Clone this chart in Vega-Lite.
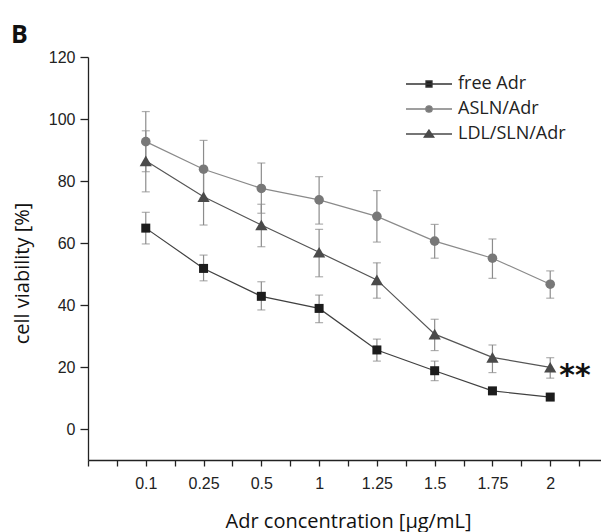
{
  "$schema": "https://vega.github.io/schema/vega-lite/v6.json",
  "width": 520,
  "height": 403,
  "autosize": {"type": "none"},
  "padding": {"left": 88, "top": 57, "right": 0, "bottom": 72},
  "background": "white",
  "config": {"view": {"stroke": null}, "axis": {"grid": false}},
  "title": {"text": "B", "anchor": "start", "frame": "group", "font": "Open Sans", "fontSize": 25, "fontWeight": "bold", "color": "#111111", "dx": -77, "dy": 26, "baseline": "alphabetic", "offset": 7},
  "data": {"values": [
    {"idx": 1, "group": "free Adr", "mean": 64.8, "lo": 59.7, "hi": 69.9},
    {"idx": 2, "group": "free Adr", "mean": 51.8, "lo": 47.8, "hi": 56.1},
    {"idx": 3, "group": "free Adr", "mean": 42.8, "lo": 38.4, "hi": 47.5},
    {"idx": 4, "group": "free Adr", "mean": 38.9, "lo": 34.3, "hi": 43.2},
    {"idx": 5, "group": "free Adr", "mean": 25.5, "lo": 21.9, "hi": 29.0},
    {"idx": 6, "group": "free Adr", "mean": 18.8, "lo": 15.6, "hi": 21.9},
    {"idx": 7, "group": "free Adr", "mean": 12.3, "lo": 11.3, "hi": 13.3},
    {"idx": 8, "group": "free Adr", "mean": 10.3, "lo": 9.5, "hi": 11.1},
    {"idx": 1, "group": "ASLN/Adr", "mean": 92.7, "lo": 83.0, "hi": 102.4},
    {"idx": 2, "group": "ASLN/Adr", "mean": 83.8, "lo": 74.5, "hi": 93.1},
    {"idx": 3, "group": "ASLN/Adr", "mean": 77.6, "lo": 69.6, "hi": 85.8},
    {"idx": 4, "group": "ASLN/Adr", "mean": 73.9, "lo": 66.1, "hi": 81.4},
    {"idx": 5, "group": "ASLN/Adr", "mean": 68.6, "lo": 60.3, "hi": 76.9},
    {"idx": 6, "group": "ASLN/Adr", "mean": 60.6, "lo": 55.1, "hi": 66.0},
    {"idx": 7, "group": "ASLN/Adr", "mean": 55.1, "lo": 48.6, "hi": 61.3},
    {"idx": 8, "group": "ASLN/Adr", "mean": 46.7, "lo": 42.2, "hi": 51.0},
    {"idx": 1, "group": "LDL/SLN/Adr", "mean": 86.5, "lo": 76.5, "hi": 96.2},
    {"idx": 2, "group": "LDL/SLN/Adr", "mean": 74.9, "lo": 65.8, "hi": 83.9},
    {"idx": 3, "group": "LDL/SLN/Adr", "mean": 65.8, "lo": 58.8, "hi": 72.5},
    {"idx": 4, "group": "LDL/SLN/Adr", "mean": 57.0, "lo": 49.1, "hi": 64.4},
    {"idx": 5, "group": "LDL/SLN/Adr", "mean": 48.1, "lo": 42.2, "hi": 53.6},
    {"idx": 6, "group": "LDL/SLN/Adr", "mean": 30.6, "lo": 25.3, "hi": 35.4},
    {"idx": 7, "group": "LDL/SLN/Adr", "mean": 23.1, "lo": 18.2, "hi": 27.1},
    {"idx": 8, "group": "LDL/SLN/Adr", "mean": 19.9, "lo": 16.4, "hi": 23.0}
  ]},
  "encoding": {
    "x": {
      "field": "idx", "type": "quantitative",
      "scale": {"domain": [0, 9], "nice": false, "zero": false},
      "axis": {
        "values": [0, 0.5, 1, 1.5, 2, 2.5, 3, 3.5, 4, 4.5, 5, 5.5, 6, 6.5, 7, 7.5, 8, 8.5],
        "labelExpr": "['', '0.1', '0.25', '0.5', '1', '1.25', '1.5', '1.75', '2'][datum.value] || ''",
        "grid": false, "tickSize": 6, "tickColor": "#222222", "tickWidth": 1.3,
        "domainColor": "#222222", "domainWidth": 1.3,
        "labelFont": "Liberation Sans", "labelFontSize": 16, "labelColor": "#222222",
        "labelBaseline": "alphabetic", "labelPadding": 22, "labelFlush": false, "labelOverlap": false,
        "title": "Adr concentration [μg/mL]", "titleFont": "Open Sans", "titleFontSize": 20,
        "titleFontWeight": "normal", "titleColor": "#111111", "titleBaseline": "alphabetic",
        "titleX": 260, "titleY": 67,
        "encode": {"ticks": {"update": {"y2": {"signal": "datum.value % 1 === 0 ? 6 : 3.5"}}}}
      }
    }
  },
  "layer": [
    {
      "mark": {"type": "rule", "color": "#8c8c8c", "strokeWidth": 1.2},
      "encoding": {
        "y": {
          "field": "lo", "type": "quantitative",
          "scale": {"domain": [-10, 120], "nice": false, "zero": false},
          "axis": {
            "values": [0, 10, 20, 30, 40, 50, 60, 70, 80, 90, 100, 110, 120],
            "labelExpr": "datum.value % 20 === 0 ? datum.label : ''",
            "grid": false, "tickSize": 8, "tickColor": "#222222", "tickWidth": 1.3,
            "domainColor": "#222222", "domainWidth": 1.3,
            "labelFont": "Liberation Sans", "labelFontSize": 16, "labelColor": "#222222",
            "labelPadding": 5, "labelFlush": false, "labelOverlap": false,
            "title": "cell viability [%]", "titleFont": "Open Sans", "titleFontSize": 20,
            "titleFontWeight": "normal", "titleColor": "#111111",
            "titleBaseline": "middle", "titleAlign": "center", "titleX": -66, "titleY": 216,
            "encode": {"ticks": {"update": {"x2": {"signal": "datum.value % 20 === 0 ? -8 : -5"}}}}
          }
        },
        "y2": {"field": "hi"}
      }
    },
    {
      "mark": {"type": "tick", "orient": "horizontal", "color": "#8c8c8c", "size": 8, "thickness": 1.2},
      "encoding": {"y": {"field": "lo", "type": "quantitative"}}
    },
    {
      "mark": {"type": "tick", "orient": "horizontal", "color": "#8c8c8c", "size": 8, "thickness": 1.2},
      "encoding": {"y": {"field": "hi", "type": "quantitative"}}
    },
    {
      "transform": [{"filter": "datum.group === 'free Adr'"}],
      "mark": {"type": "line", "strokeWidth": 1.2, "color": "#404040"},
      "encoding": {"y": {"field": "mean", "type": "quantitative"}}
    },
    {
      "transform": [{"filter": "datum.group === 'ASLN/Adr'"}],
      "mark": {"type": "line", "strokeWidth": 1.2, "color": "#8a8a8a"},
      "encoding": {"y": {"field": "mean", "type": "quantitative"}}
    },
    {
      "transform": [{"filter": "datum.group === 'LDL/SLN/Adr'"}],
      "mark": {"type": "line", "strokeWidth": 1.2, "color": "#555555"},
      "encoding": {"y": {"field": "mean", "type": "quantitative"}}
    },
    {
      "transform": [{"filter": "datum.group === 'free Adr'"}],
      "mark": {"type": "point", "filled": true, "opacity": 1, "shape": "square", "size": 81, "color": "#1c1c1c"},
      "encoding": {"y": {"field": "mean", "type": "quantitative"}}
    },
    {
      "transform": [{"filter": "datum.group === 'ASLN/Adr'"}],
      "mark": {"type": "point", "filled": true, "opacity": 1, "shape": "circle", "size": 92, "color": "#787878"},
      "encoding": {"y": {"field": "mean", "type": "quantitative"}}
    },
    {
      "transform": [{"filter": "datum.group === 'LDL/SLN/Adr'"}],
      "mark": {"type": "point", "filled": true, "opacity": 1, "shape": "triangle-up", "size": 150, "color": "#4a4a4a"},
      "encoding": {"y": {"field": "mean", "type": "quantitative"}}
    },
    {
      "transform": [{"filter": "false"}],
      "mark": {"type": "point", "opacity": 1, "size": 400, "strokeWidth": 1.3},
      "encoding": {
        "y": {"field": "mean", "type": "quantitative"},
        "fill": {
          "field": "group", "type": "nominal",
          "scale": {"domain": ["free Adr", "ASLN/Adr", "LDL/SLN/Adr"], "range": ["#1c1c1c", "#787878", "#4a4a4a"]},
          "legend": {
            "orient": "none", "legendX": 330, "legendY": 16, "title": null, "padding": 0,
            "symbolSize": 400, "labelOffset": 18, "rowPadding": 5, "symbolOpacity": 1,
            "labelFont": "Open Sans", "labelFontSize": 18, "labelColor": "#222222",
            "symbolStrokeWidth": 1.3
          }
        },
        "stroke": {
          "field": "group", "type": "nominal",
          "scale": {"domain": ["free Adr", "ASLN/Adr", "LDL/SLN/Adr"], "range": ["#333333", "#808080", "#4a4a4a"]},
          "legend": {
            "orient": "none", "legendX": 330, "legendY": 16, "title": null, "padding": 0,
            "symbolSize": 400, "labelOffset": 18, "rowPadding": 5, "symbolOpacity": 1,
            "labelFont": "Open Sans", "labelFontSize": 18, "labelColor": "#222222",
            "symbolStrokeWidth": 1.3
          }
        },
        "shape": {
          "field": "group", "type": "nominal",
          "scale": {"domain": ["free Adr", "ASLN/Adr", "LDL/SLN/Adr"], "range": ["M-2.3,0H2.3M-0.3,-0.3H0.3V0.3H-0.3Z", "M-2.3,0H2.3M-0.32,0A0.32,0.32,0,1,1,0.32,0A0.32,0.32,0,1,1,-0.32,0Z", "M-2.3,0H2.3M0,-0.4L0.48,0.32L-0.48,0.32Z"]},
          "legend": {
            "orient": "none", "legendX": 330, "legendY": 16, "title": null, "padding": 0,
            "symbolSize": 400, "labelOffset": 18, "rowPadding": 5, "symbolOpacity": 1,
            "labelFont": "Open Sans", "labelFontSize": 18, "labelColor": "#222222",
            "symbolStrokeWidth": 1.3
          }
        }
      }
    },
    {
      "data": {"values": [{"idx": 8, "mean": 19.9, "note": "**"}]},
      "mark": {"type": "text", "align": "left", "baseline": "alphabetic", "dx": 9, "dy": 18, "font": "DejaVu Sans", "fontSize": 30, "fontWeight": "bold", "color": "#111111"},
      "encoding": {
        "y": {"field": "mean", "type": "quantitative"},
        "text": {"field": "note"}
      }
    }
  ]
}
